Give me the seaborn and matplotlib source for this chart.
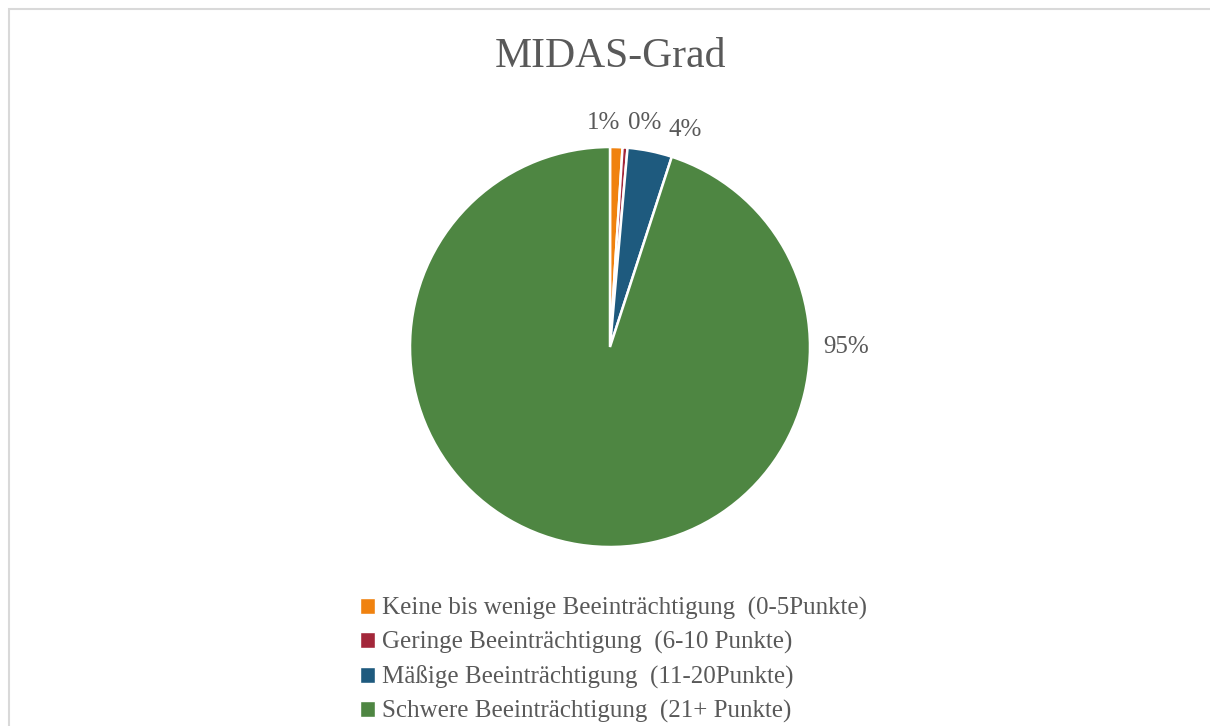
import matplotlib
matplotlib.use("Agg")
import matplotlib.pyplot as plt
from matplotlib.patches import Patch
import seaborn as sns

# data (percent of patients)
categories = [
    "Keine bis wenige Beeinträchtigung  (0-5Punkte)",
    "Geringe Beeinträchtigung  (6-10 Punkte)",
    "Mäßige Beeinträchtigung  (11-20Punkte)",
    "Schwere Beeinträchtigung  (21+ Punkte)",
]
shares = [1.0, 0.4, 3.6, 95.0]
colors = ["#F0820F", "#A3273A", "#1E5A7E", "#4E8642"]

sns.set_theme(style="white")
plt.rcParams["font.family"] = ["Liberation Serif", "DejaVu Serif"]
grey = "#595959"

fig = plt.figure(figsize=(12.1, 7.26), dpi=100)
# chart area frame like the office export
fig.patches.append(plt.Rectangle((9 / 1210, -0.1), 1.2, (726 - 9) / 726 + 0.1,
                                 transform=fig.transFigure, fill=False,
                                 edgecolor="#D9D9D9", linewidth=1.5))

ax = fig.add_axes([360 / 1210, 129 / 726, 500 / 1210, 500 / 726])
wedges, texts, autotexts = ax.pie(
    shares, colors=colors, startangle=90, counterclock=False,
    autopct=lambda p: f"{p:.0f}%", pctdistance=1.15,
    wedgeprops=dict(edgecolor="white", linewidth=1.8),
    textprops=dict(color=grey, fontsize=18),
)
# spread the crowded labels the way the original does
label_pos = [(-0.03, 1.12), (0.175, 1.12), (0.375, 1.085), (1.18, 0.0)]
for t, pos in zip(autotexts, label_pos):
    t.set_position(pos)
ax.set_xlim(-1.25, 1.25)
ax.set_ylim(-1.25, 1.25)
ax.set_aspect("equal")

fig.text(610 / 1210, 1 - 57 / 726, "MIDAS-Grad", ha="center", va="center",
         fontsize=30, color=grey)

handles = [Patch(facecolor=c, edgecolor="white") for c in colors]
fig.legend(handles, categories, loc="upper left",
           bbox_to_anchor=(350 / 1210, 1 - 587 / 726), frameon=False,
           fontsize=18, labelcolor=grey, handlelength=0.6, handleheight=0.6,
           handletextpad=0.3, labelspacing=0.45, borderaxespad=0)

fig.savefig("out.png", dpi=100)
